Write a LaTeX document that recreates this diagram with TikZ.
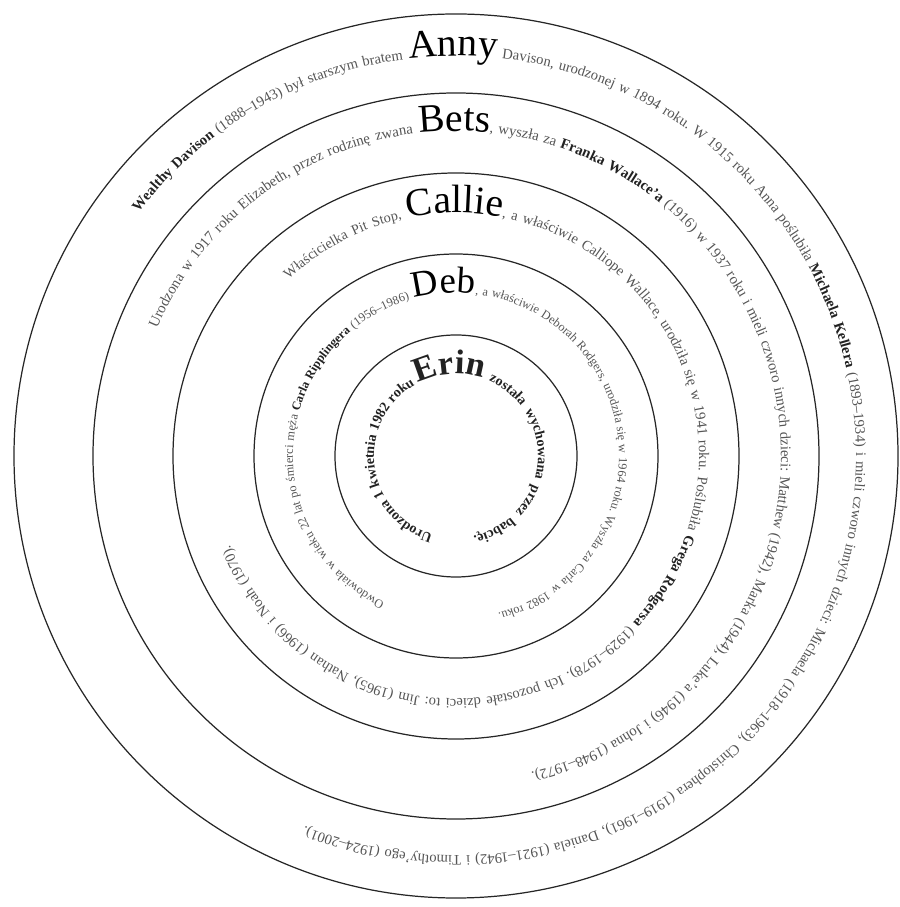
\documentclass[tikz,border=0pt]{standalone}
\usepackage{fontspec}
\setmainfont{Liberation Serif}
\usepackage{xcolor}
\usetikzlibrary{decorations.text}
\definecolor{inkGray}{HTML}{555555}
\definecolor{inkDark}{HTML}{222222}
\newcommand{\txtsm}[1]{\fontsize{#1}{#1}\selectfont\mdseries\color{inkGray}}
\newcommand{\txtbf}[1]{\fontsize{#1}{#1}\selectfont\bfseries\color{inkDark}}
\newcommand{\txtname}[1]{\fontsize{#1}{#1}\selectfont\mdseries\color{black}}

\begin{document}
\begin{tikzpicture}[
  ring/.style={draw=black!85, line width=0.7pt},
  bandtext/.style={decorate, decoration={text along path, text align={fit to path stretching spaces}, text={#1}}},
]
\useasboundingbox (-9.12,-9.02) rectangle (8.86,9.12);
\coordinate (center) at (0,0);
\foreach \r in {2.42,4.04,5.66,7.26,8.84} {
  \draw[ring] (center) circle[radius=\r];
}

\path[bandtext={|\txtbf{8.3}|Wealthy Davison|\txtsm{8.3}| (1888–1943) był starszym bratem}]
  (142.5:8) arc[start angle=142.5, end angle=97.6, radius=8];
\path[bandtext={|\txtname{22.5}|Anny|\txtsm{8.3}| Davison, urodzonej w 1894 roku. W 1915 roku Anna poślubiła |\txtbf{8.3}|Michaela Kellera|\txtsm{8.3}| (1893–1934) i mieli czworo innych dzieci: Michaela (1918–1963), Christophera (1919–1961), Daniela (1921–1942) i Timothy'ego (1924–2001).}]
  (96.7:8) arc[start angle=96.7, end angle=-112.2, radius=8];

\path[bandtext={|\txtsm{8.4}|Urodzona w 1917 roku Elizabeth, przez rodzinę zwana}]
  (156.9:6.5) arc[start angle=156.9, end angle=97.6, radius=6.5];
\path[bandtext={|\txtname{22.5}|Bets|\txtsm{8.4}|, wyszła za |\txtbf{8.4}|Franka Wallace'a|\txtsm{8.4}| (1916) w 1937 roku i mieli czworo innych dzieci: Matthew (1942), Marka (1944), Luke'a (1946) i Johna (1948–1972).}]
  (96.5:6.5) arc[start angle=96.5, end angle=-76.6, radius=6.5];

\path[bandtext={|\txtsm{8.1}|Właścicielka Pit Stop,}]
  (133.5:4.86) arc[start angle=133.5, end angle=102.8, radius=4.86];
\path[bandtext={|\txtname{22.5}|Callie|\txtsm{8.3}|, a właściwie Calliope Wallace, urodziła się w 1941 roku. Poślubiła |\txtbf{8.3}|Grega Rodgersa|\txtsm{8.3}| (1929–1978). Ich pozostałe dzieci to: Jim (1965), Nathan (1966) i Noah (1970).}]
  (101.4:4.86) arc[start angle=101.4, end angle=-158.5, radius=4.86];

\path[bandtext={|\txtsm{7}|Owdowiała w wieku 22 lat po śmierci męża |\txtbf{7}|Carla Ripplingera|\txtsm{7}| (1956–1986)}]
  (244:3.26) arc[start angle=244, end angle=106.5, radius=3.26];
\path[bandtext={|\txtname{21}|Deb|\txtsm{7}|, a właściwie Deborah Rodgers, urodziła się w 1964 roku. Wyszła za Carla w 1982 roku.}]
  (104.9:3.26) arc[start angle=104.9, end angle=-75, radius=3.26];

\path[bandtext={|\txtbf{8}|Urodzona 1 kwietnia 1982 roku}]
  (253.6:1.64) arc[start angle=253.6, end angle=120, radius=1.64];
\path[bandtext={|\txtbf{19.5}|Erin|\txtbf{8}| została wychowana przez babcię.}]
  (117.5:1.64) arc[start angle=117.5, end angle=-77.8, radius=1.64];
\end{tikzpicture}
\end{document}
